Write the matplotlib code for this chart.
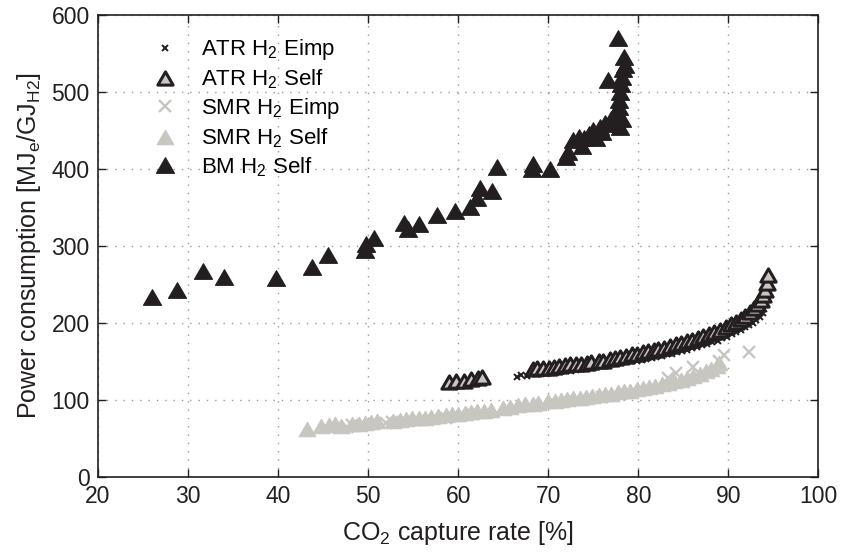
import matplotlib
matplotlib.use("Agg")
import matplotlib.pyplot as plt
from matplotlib.path import Path

plt.rcParams['font.family'] = ['Liberation Sans', 'DejaVu Sans']
plt.rcParams['mathtext.fontset'] = 'custom'
plt.rcParams['mathtext.rm'] = 'Liberation Sans'
plt.rcParams['mathtext.it'] = 'Liberation Sans'

# ---------------- data ----------------
bm_x = [26.0, 28.8, 31.7, 34.0, 39.8, 43.8, 45.5, 49.6, 49.8, 50.6, 54.0, 54.4, 55.7,
        57.6, 59.6, 61.3, 62.1, 62.4, 63.7, 64.3, 68.2, 68.3, 70.2, 72.0, 72.2, 72.8,
        73.4, 73.7, 74.0, 74.5, 75.0, 75.3, 75.8, 76.0, 76.3, 76.6, 76.8, 77.0, 77.3,
        77.5, 77.7, 77.8, 77.9, 78.0, 78.1, 78.2, 78.3, 78.4, 78.2, 77.6, 78.5, 78.0]
bm_y = [233, 243, 268, 260, 258, 272, 288, 295, 303, 310, 330, 322, 328,
        340, 345, 350, 362, 375, 372, 403, 400, 407, 400, 415, 422, 438,
        442, 430, 440, 445, 450, 440, 455, 448, 460, 515, 458, 465, 470,
        475, 570, 480, 490, 500, 510, 520, 530, 545, 465, 460, 535, 455]

atr_self_x = [59.0, 59.8, 60.6, 61.4, 62.2, 62.6,
              68.3, 68.8, 69.4, 70.1, 70.6, 71.2, 71.9, 72.4, 73.1, 73.6, 74.3, 74.8,
              75.6, 76.1, 76.8, 77.4, 78.0, 78.6, 79.3, 79.8, 80.5, 81.1, 81.7, 82.2,
              82.9, 83.5, 84.2, 84.7, 85.4, 86.0, 86.6, 87.2, 87.9, 88.4, 89.1, 89.7,
              90.3, 90.9, 91.4, 91.9, 92.4, 92.8, 93.2, 93.6, 93.9, 94.1, 94.3, 94.4]
atr_self_y = [123, 125, 124, 127, 129, 130,
              140, 141, 142, 142, 143, 144, 145, 146, 146, 147, 148, 149,
              150, 151, 153, 154, 156, 157, 159, 160, 162, 163, 165, 166,
              168, 170, 172, 174, 176, 178, 180, 183, 186, 188, 191, 194,
              198, 201, 205, 209, 214, 219, 224, 230, 236, 243, 252, 262]

atr_eimp_x = [66.5, 67.0, 67.6, 68.1, 68.7, 69.2, 69.8, 70.3, 70.9, 71.4, 72.0, 72.5,
              73.1, 73.6, 74.2, 74.8, 75.3, 75.9, 76.4, 77.0, 77.6, 78.1, 78.7, 79.2,
              79.8, 80.4, 80.9, 81.5, 82.0, 82.6, 83.2, 83.7, 84.3, 84.8, 85.4, 86.0,
              86.5, 87.1, 87.6, 88.2, 88.8, 89.3, 89.9, 90.4, 90.9, 91.4, 91.9, 92.3,
              92.7, 93.1, 93.5, 93.8, 94.0, 94.2, 94.3, 94.4, 94.5]
atr_eimp_y = [130, 132, 131, 133, 133, 134, 135, 135, 136, 137, 138, 138,
              139, 140, 141, 142, 143, 144, 145, 146, 147, 148, 149, 150,
              151, 152, 153, 155, 156, 157, 159, 160, 162, 163, 165, 167,
              169, 171, 173, 175, 177, 180, 182, 185, 188, 191, 194, 197,
              200, 204, 208, 213, 218, 224, 231, 238, 246]

smr_self_x = [43.2, 44.8, 45.6, 46.3, 47.0, 48.2, 49.0, 49.6, 50.3, 51.0, 52.8, 53.5,
              54.2, 54.9, 55.6, 56.3, 57.0, 57.8, 58.6, 59.3, 60.0, 60.7, 61.4, 62.1,
              62.9, 63.6, 65.0, 65.8, 66.6, 67.4, 68.3, 68.9, 70.0, 70.7, 71.4, 72.1,
              72.8, 73.5, 74.2, 74.9, 75.6, 76.3, 77.0, 77.7, 78.4, 79.1, 79.8, 80.5,
              81.2, 81.9, 82.6, 83.3, 84.0, 84.7, 85.4, 86.1, 86.8, 87.5, 88.1, 88.7, 89.0]
smr_self_y = [62, 66, 67, 68, 66, 68, 69, 70, 71, 72, 73, 74,
              75, 76, 77, 76, 78, 79, 80, 81, 82, 83, 84, 85,
              86, 87, 90, 91, 93, 94, 95, 96, 98, 99, 100, 101,
              102, 103, 104, 105, 106, 107, 108, 110, 111, 112, 114, 115,
              117, 118, 120, 122, 124, 126, 128, 131, 134, 137, 140, 144, 148]

smr_eimp_x = [47.6, 48.2, 52.0, 52.6, 58.6, 61.5, 76.0, 83.3, 84.2, 86.1, 89.0, 89.5, 92.3]
smr_eimp_y = [65, 67, 70, 71, 77, 82, 104, 128, 135, 143, 150, 158, 162]

xticks = [20, 30, 40, 50, 60, 70, 80, 90, 100]
yticks = [0, 100, 200, 300, 400, 500, 600]

BLACK = '#231f20'
LGRAY = '#c8c6c1'

# equilateral up-triangle marker
TRI = Path([(0, 0.433), (-0.5, -0.433), (0.5, -0.433), (0, 0.433)],
           [Path.MOVETO, Path.LINETO, Path.LINETO, Path.CLOSEPOLY])

fig = plt.figure(figsize=(8.42, 5.57), dpi=100)
ax = fig.add_axes([0.1164, 0.144, 0.8556, 0.829])

h_bm, = ax.plot(bm_x, bm_y, linestyle='none', marker=TRI, ms=13,
                mfc=BLACK, mec=BLACK, mew=0.8, zorder=3)
h_ss, = ax.plot(smr_self_x, smr_self_y, linestyle='none', marker=TRI, ms=12,
                mfc=LGRAY, mec=LGRAY, mew=0.8, zorder=3)
h_se, = ax.plot(smr_eimp_x, smr_eimp_y, linestyle='none', marker='x', ms=8.5,
                mec=LGRAY, mew=1.7, zorder=3)
h_ae, = ax.plot(atr_eimp_x, atr_eimp_y, linestyle='none', marker='x', ms=4.8,
                mec=BLACK, mew=1.4, zorder=4)
h_as, = ax.plot(atr_self_x, atr_self_y, linestyle='none', marker=TRI, ms=11,
                mfc=LGRAY, mec=BLACK, mew=2.2, zorder=5)

ax.set_xlim(20, 100)
ax.set_ylim(0, 600)
ax.set_xticks(xticks)
ax.set_yticks(yticks)
ax.tick_params(direction='in', top=True, right=True, length=6, width=1,
               labelsize=16.5, colors=BLACK, pad=6)
for s in ax.spines.values():
    s.set_linewidth(1.2)
    s.set_color(BLACK)
ax.grid(True, linestyle=(0, (1, 5)), color='#999999', linewidth=1.0)
ax.set_axisbelow(True)

ax.set_xlabel(r'CO$_\mathregular{2}$ capture rate [%]', fontsize=18, color=BLACK,
              labelpad=8)
ax.set_ylabel(r'Power consumption [MJ$_\mathregular{e}$/GJ$_\mathregular{H2}$]',
              fontsize=18, color=BLACK, labelpad=6)

leg = ax.legend([h_ae, h_as, h_se, h_ss, h_bm],
                [r'ATR H$_\mathregular{2}$ Eimp', r'ATR H$_\mathregular{2}$ Self',
                 r'SMR H$_\mathregular{2}$ Eimp', r'SMR H$_\mathregular{2}$ Self',
                 r'BM H$_\mathregular{2}$ Self'],
                loc='upper left', frameon=False, fontsize=16,
                bbox_to_anchor=(0.035, 0.995), handletextpad=0.6, labelspacing=0.23,
                markerscale=1.0)

fig.savefig('out.png', dpi=100)
